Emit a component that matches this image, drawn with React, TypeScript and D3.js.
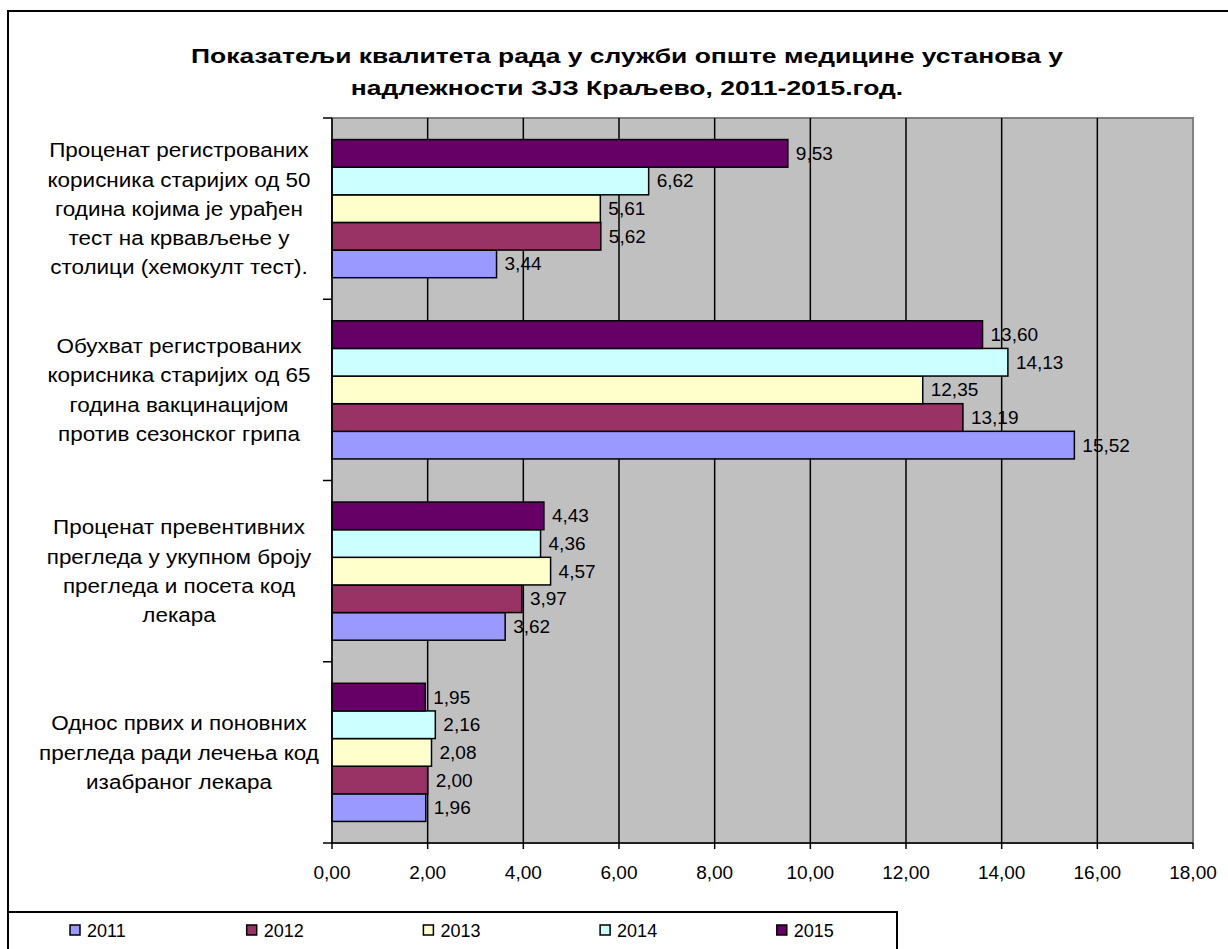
import React from "react";
import * as d3 from "d3";

const titleLines = [
  "Показатељи квалитета рада у служби опште медицине установа у",
  "надлежности ЗЈЗ Краљево, 2011-2015.год.",
];

const categories = [
  "Проценат регистрованих корисника старијих од 50 година којима је урађен тест на крвављење у столици (хемокулт тест).",
  "Обухват регистрованих корисника старијих од 65 година вакцинацијом против сезонског грипа",
  "Проценат превентивних прегледа у укупном броју прегледа и посета код лекара",
  "Однос првих и поновних прегледа ради лечења код изабраног лекара",
];

const categoryLines = [
  ["Проценат регистрованих", "корисника старијих од 50", "година којима је урађен", "тест на крвављење у", "столици (хемокулт тест)."],
  ["Обухват регистрованих", "корисника старијих од 65", "година вакцинацијом", "против сезонског грипа"],
  ["Проценат превентивних", "прегледа у укупном броју", "прегледа и посета код", "лекара"],
  ["Однос првих и поновних", "прегледа ради лечења код", "изабраног лекара"],
];

const years = ["2011", "2012", "2013", "2014", "2015"];
const colors = ["#9999FF", "#993366", "#FFFFCC", "#CCFFFF", "#660066"];

const values2011 = [3.44, 15.52, 3.62, 1.96];
const values2012 = [5.62, 13.19, 3.97, 2.0];
const values2013 = [5.61, 12.35, 4.57, 2.08];
const values2014 = [6.62, 14.13, 4.36, 2.16];
const values2015 = [9.53, 13.6, 4.43, 1.95];
const seriesValues = [values2011, values2012, values2013, values2014, values2015];

const xTicks = [0, 2, 4, 6, 8, 10, 12, 14, 16, 18];

const FONT = "'Liberation Sans', Arial, sans-serif";

export default function App() {
  const W = 1228;
  const H = 949;
  const plotLeft = 332;
  const plotRight = 1193;
  const plotTop = 118;
  const plotBottom = 843;

  const x = d3.scaleLinear().domain([0, 18]).range([plotLeft, plotRight]);
  const y = d3.scaleBand<string>().domain(categories).range([plotTop, plotBottom]).padding(0);
  // top-to-bottom order inside category: 2015 ... 2011
  const inner = d3
    .scaleBand<string>()
    .domain([...years].reverse())
    .range([0, y.bandwidth()])
    .paddingInner(0)
    .paddingOuter(0.78);

  const fmt = (v: number) => d3.format(".2f")(v).replace(".", ",");

  const catTicks = categories.map((c) => y(c) as number).concat([plotBottom]);

  return (
    <div style={{ position: "absolute", left: 0, top: 0 }}>
      <svg width={W} height={H} style={{ display: "block", background: "#fff" }} fontFamily={FONT}>
        {/* outer frame */}
        <rect x={8} y={11} width={W + 20} height={H + 20} fill="#fff" stroke="#000" strokeWidth={2} />

        {/* title */}
        {titleLines.map((t, i) => (
          <text
            key={i}
            transform={`translate(${627},${63 + i * 32}) scale(1.26,1)`}
            textAnchor="middle"
            fontSize={21}
            fontWeight="bold"
            fill="#000"
          >
            {t}
          </text>
        ))}

        {/* plot area */}
        <rect x={plotLeft} y={plotTop} width={plotRight - plotLeft} height={plotBottom - plotTop} fill="#C0C0C0" stroke="#808080" strokeWidth={2} />

        {/* gridlines */}
        {xTicks
          .filter((t) => t > 0 && t < 18)
          .map((t) => (
            <line key={t} x1={x(t)} x2={x(t)} y1={plotTop} y2={plotBottom} stroke="#000" strokeWidth={1.5} />
          ))}

        {/* bars */}
        {categories.map((c, ci) =>
          years.map((yr, si) => {
            const v = seriesValues[si][ci];
            const by = (y(c) as number) + (inner(yr) as number);
            const bh = inner.bandwidth();
            return (
              <g key={c + yr}>
                <rect x={x(0)} y={by} width={x(v) - x(0)} height={bh} fill={colors[si]} stroke="#000" strokeWidth={1.5} />
                <text x={x(v) + 8} y={by + bh / 2} dominantBaseline="central" fontSize={19} fill="#000">
                  {fmt(v)}
                </text>
              </g>
            );
          })
        )}

        {/* axes */}
        <line x1={plotLeft} x2={plotLeft} y1={plotTop} y2={plotBottom} stroke="#000" strokeWidth={1.5} />
        <line x1={plotLeft} x2={plotRight} y1={plotBottom} y2={plotBottom} stroke="#000" strokeWidth={1.5} />
        {catTicks.map((t, i) => (
          <line key={i} x1={plotLeft - 9} x2={plotLeft} y1={t} y2={t} stroke="#000" strokeWidth={1.5} />
        ))}
        {xTicks.map((t) => (
          <g key={t}>
            <line x1={x(t)} x2={x(t)} y1={plotBottom} y2={plotBottom + 6} stroke="#000" strokeWidth={1.5} />
            <text x={x(t)} y={872} textAnchor="middle" dominantBaseline="central" fontSize={19} fill="#000">
              {fmt(t)}
            </text>
          </g>
        ))}

        {/* category labels */}
        {categories.map((c, ci) => {
          const lines = categoryLines[ci];
          const cy = (y(c) as number) + y.bandwidth() / 2;
          const lh = 29.3;
          return lines.map((ln, li) => (
            <text
              key={c + li}
              transform={`translate(${179},${cy + (li - (lines.length - 1) / 2) * lh}) scale(1.07,1)`}
              textAnchor="middle"
              dominantBaseline="central"
              fontSize={21}
              fill="#000"
            >
              {ln}
            </text>
          ));
        })}

        {/* legend */}
        <rect x={8} y={912} width={889} height={60} fill="#fff" stroke="#000" strokeWidth={2} />
        {years.map((yr, i) => {
          const lx = 70 + i * 176.7;
          return (
            <g key={yr}>
              <rect x={lx} y={925} width={10} height={10} fill={colors[i]} stroke="#000" strokeWidth={1.5} />
              <text x={lx + 17} y={931} dominantBaseline="central" fontSize={18} fill="#000">
                {yr}
              </text>
            </g>
          );
        })}
      </svg>
    </div>
  );
}
